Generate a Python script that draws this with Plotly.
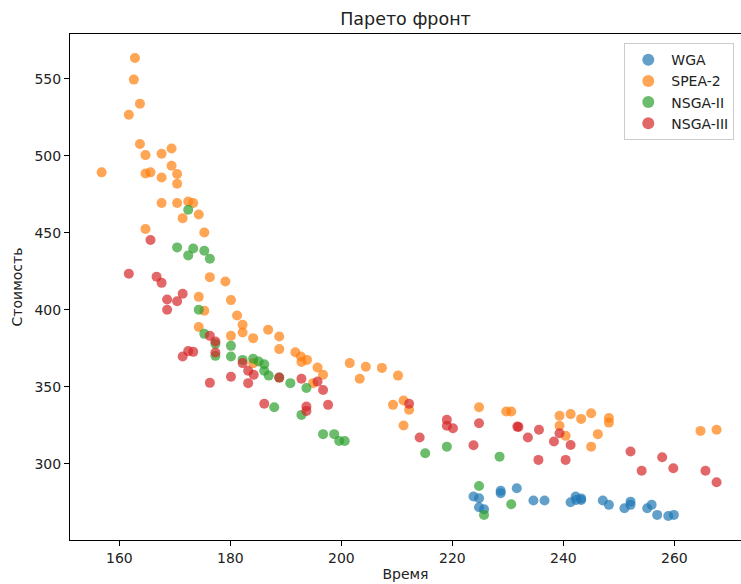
import plotly.graph_objects as go

wga_x = [223.8, 224.8, 224.8, 225.7, 228.7, 228.7, 231.6, 234.6, 236.6, 241.3, 242.2, 242.3, 243.2, 243.2,
         247.1, 248.2, 251.0, 252.1, 252.1, 255.1, 255.9, 256.9, 258.9, 259.9]
wga_y = [278.8, 277.7, 271.9, 270.6, 282.5, 281.0, 284.2, 276.2, 276.2, 275.1, 278.8, 276.6, 276.6, 277.6,
         276.2, 273.4, 271.2, 275.5, 273.4, 271.2, 273.4, 266.9, 266.2, 266.9]

spea_x = [162.8, 162.6, 163.7, 161.7, 163.7, 164.7, 167.6, 169.4, 169.4, 156.8, 164.7, 165.6, 167.6, 170.4,
          170.4, 167.6, 170.4, 172.4, 173.3, 174.3, 171.4, 164.7, 175.3, 176.3, 179.1, 174.3, 180.1, 175.3,
          174.3, 180.1, 181.2, 182.2, 182.2, 184.1, 186.8, 188.8, 188.8, 184.1, 191.7, 192.7, 192.8, 193.8,
          195.7, 196.7, 194.9, 201.5, 203.3, 204.4, 207.3, 210.2, 209.3, 211.2, 212.2, 211.2, 224.8, 229.7,
          230.6, 239.3, 241.3, 243.2, 239.3, 240.4, 245.0, 245.0, 248.2, 248.2, 246.2, 264.7, 267.6]
spea_y = [563.4, 549.4, 533.8, 526.6, 507.6, 500.4, 501.3, 504.7, 493.5, 489.2, 488.5, 489.2, 485.9, 488.1,
          481.8, 469.3, 469.3, 470.3, 469.3, 461.9, 459.5, 452.4, 450.2, 421.2, 418.4, 408.4, 406.3, 399.4,
          388.8, 383.1, 396.3, 390.3, 385.3, 381.6, 387.0, 382.7, 374.5, 365.4, 372.5, 369.7, 366.1, 367.5,
          362.5, 357.8, 352.4, 365.4, 355.2, 363.0, 362.3, 357.3, 338.3, 341.1, 335.1, 324.9, 336.8, 334.0,
          334.0, 331.2, 332.3, 329.2, 324.7, 318.2, 332.9, 311.2, 329.7, 326.8, 319.3, 321.4, 322.1]

nsga2_x = [172.4, 170.4, 173.3, 172.4, 175.3, 176.3, 174.3, 175.3, 177.3, 180.1, 177.3, 180.1, 182.2, 184.1,
           185.1, 186.1, 186.1, 186.9, 188.8, 190.8, 193.7, 187.9, 192.8, 196.7, 198.7, 199.6, 200.6, 215.1,
           219.0, 228.5, 224.8, 230.6, 225.7]
nsga2_y = [464.9, 440.5, 439.8, 435.3, 438.3, 433.1, 400.0, 384.4, 377.9, 376.6, 370.1, 369.7, 367.5, 368.2,
           366.4, 364.7, 360.4, 357.3, 356.0, 352.4, 349.2, 336.8, 331.8, 319.3, 319.3, 314.9, 314.9, 306.9,
           311.2, 304.7, 285.7, 273.8, 266.9]

nsga3_x = [165.6, 161.7, 166.7, 167.6, 171.4, 168.6, 170.4, 168.6, 176.3, 177.3, 177.3, 172.4, 173.3, 171.4,
           176.3, 180.1, 182.2, 183.2, 184.2, 183.2, 188.8, 192.8, 195.7, 196.7, 186.1, 193.7, 193.7, 197.6,
           212.2, 214.1, 219.0, 219.0, 220.1, 223.8, 224.8, 231.7, 231.9, 233.6, 235.6, 235.5, 240.4, 238.3,
           239.3, 241.3, 252.1, 254.1, 257.8, 259.8, 265.6, 267.6]
nsga3_y = [445.3, 423.4, 421.4, 417.5, 410.4, 406.7, 405.6, 400.0, 383.1, 379.4, 372.3, 373.2, 372.7, 369.7,
           352.6, 356.5, 365.4, 360.4, 357.8, 352.4, 356.0, 355.2, 353.4, 348.0, 339.0, 337.2, 334.4, 338.3,
           339.0, 317.1, 328.6, 324.7, 323.1, 312.1, 326.4, 324.2, 324.0, 317.1, 322.1, 302.6, 302.6, 314.5,
           319.9, 312.3, 308.0, 295.5, 304.3, 297.2, 295.5, 288.1]

series = [
    ("WGA", wga_x, wga_y, "#1f77b4"),
    ("SPEA-2", spea_x, spea_y, "#ff7f0e"),
    ("NSGA-II", nsga2_x, nsga2_y, "#2ca02c"),
    ("NSGA-III", nsga3_x, nsga3_y, "#d62728"),
]

FONT = "DejaVu Sans"
fig = go.Figure()
for name, xs, ys, col in series:
    fig.add_trace(go.Scatter(
        x=xs, y=ys, mode="markers", name=name,
        marker=dict(color=col, size=10, opacity=0.7, line=dict(width=0)),
    ))

axis_common = dict(
    showline=True, linecolor="black", linewidth=1, mirror=True,
    ticks="outside", ticklen=5, tickcolor="black", tickwidth=1,
    showgrid=False, zeroline=False,
    tickfont=dict(family=FONT, size=14, color="#222222"),
)

fig.update_layout(
    width=741, height=584,
    margin=dict(l=70, r=0, t=34, b=44),
    paper_bgcolor="white", plot_bgcolor="white",
    font=dict(family=FONT, color="#222222"),
    title=dict(text="Парето фронт", x=0.5, xref="paper", xanchor="center",
               y=1 - 19 / 584, yref="container", yanchor="middle",
               font=dict(family=FONT, size=17.5, color="#222222")),
    xaxis=dict(range=[151.1, 272.0], tickvals=[160, 180, 200, 220, 240, 260],
               title=dict(text="Время", font=dict(family=FONT, size=14), standoff=4),
               **axis_common),
    yaxis=dict(range=[250.6, 579.0], tickvals=[300, 350, 400, 450, 500, 550],
               title=dict(text="Стоимость", font=dict(family=FONT, size=14), standoff=8),
               **axis_common),
    legend=dict(x=0.99, xanchor="right", y=0.982, yanchor="top",
                bordercolor="#cccccc", borderwidth=1, bgcolor="rgba(255,255,255,0.8)",
                font=dict(family=FONT, size=14, color="#222222"),
                itemwidth=36, itemsizing="constant", tracegroupgap=0),
    showlegend=True,
)

fig.write_html("out.html")
